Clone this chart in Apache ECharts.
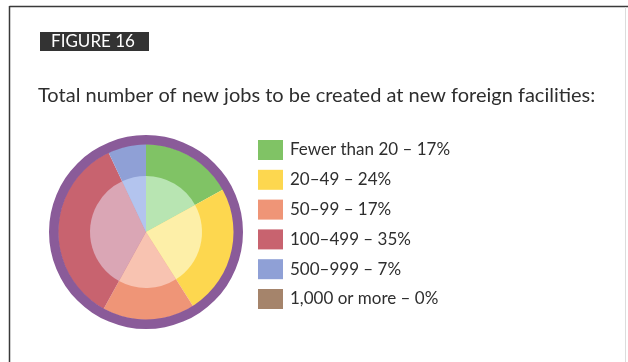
<!DOCTYPE html>
<html>
<head>
<meta charset="utf-8">
<style>
  html, body { margin: 0; padding: 0; background: #fff; }
  #chart { width: 628px; height: 362px; }
</style>
<script src="https://cdn.jsdelivr.net/npm/echarts@6/dist/echarts.min.js"></script>
</head>
<body>
<div id="chart"></div>
<script>
// Job-size categories and their shares (%)
const categories = ['Fewer than 20', '20–49', '50–99', '100–499', '500–999', '1,000 or more'];
const shares = [17, 24, 17, 35, 7, 0];

// Slice colours: outer band and lighter inner disk
const outerColors = ['#80c365', '#fdd74f', '#ef9577', '#c8636f', '#8fa0d6', '#a5846b'];
const innerColors = ['#b8e5b2', '#fdefa8', '#f8c3b1', '#daa6b5', '#b3c4ee', '#c9b3a2'];

const titleText = 'Total number of new jobs to be created at new foreign facilities:';
const figureLabel = 'FIGURE 16';

const FONT = 'Lato, "Open Sans", sans-serif';
const center = [146, 232];

const chart = echarts.init(document.getElementById('chart'), null, { renderer: 'canvas' });

const makeData = (colors) => categories.map((name, i) => ({
  name,
  value: shares[i],
  itemStyle: { color: colors[i] }
}));

chart.setOption({
  animation: false,
  backgroundColor: '#ffffff',
  legend: {
    orient: 'vertical',
    left: 258,
    top: 140,
    padding: 0,
    icon: 'rect',
    itemWidth: 25,
    itemHeight: 20,
    itemGap: 9.8,
    selectedMode: false,
    data: categories,
    textStyle: { fontFamily: FONT, fontSize: 17, color: '#2e2e2e', padding: [0, 0, 0, 2] },
    formatter: (name) => name + ' – ' + shares[categories.indexOf(name)] + '%'
  },
  graphic: [
    // frame: top and left rules, faint right edge
    { type: 'line', shape: { x1: 9.5, y1: 6.5, x2: 628, y2: 6.5 }, style: { stroke: '#3a3a3a', lineWidth: 1.5 } },
    { type: 'line', shape: { x1: 9.5, y1: 6, x2: 9.5, y2: 362 }, style: { stroke: '#3a3a3a', lineWidth: 1.5 } },
    { type: 'line', shape: { x1: 625.5, y1: 7, x2: 625.5, y2: 362 }, style: { stroke: '#dcdcdc', lineWidth: 1 } },
    // figure tag
    { type: 'rect', shape: { x: 40, y: 32, width: 109, height: 19 }, style: { fill: '#333333' } },
    { type: 'text', x: 93, y: 41.5, style: { text: figureLabel, fill: '#ffffff', font: '17px ' + FONT, align: 'center', verticalAlign: 'middle' } },
    // heading
    { type: 'text', x: 38, y: 96, style: { text: titleText, fill: '#2e2e2e', font: '20px ' + FONT, verticalAlign: 'middle' } }
  ],
  series: [
    {
      type: 'pie',
      name: 'outer',
      center,
      radius: [0, 88],
      startAngle: 90,
      clockwise: true,
      silent: true,
      label: { show: false },
      labelLine: { show: false },
      itemStyle: { borderWidth: 0 },
      data: makeData(outerColors)
    },
    {
      type: 'pie',
      name: 'inner',
      center,
      radius: [0, 56],
      startAngle: 90,
      clockwise: true,
      silent: true,
      label: { show: false },
      labelLine: { show: false },
      itemStyle: { borderWidth: 0 },
      data: makeData(innerColors)
    },
    {
      // purple rim around the pie
      type: 'pie',
      name: 'rim',
      center,
      radius: [87.5, 97],
      silent: true,
      label: { show: false },
      labelLine: { show: false },
      data: [{ name: 'rim', value: 1, itemStyle: { color: '#8a5b99' } }]
    }
  ]
});
</script>
</body>
</html>
